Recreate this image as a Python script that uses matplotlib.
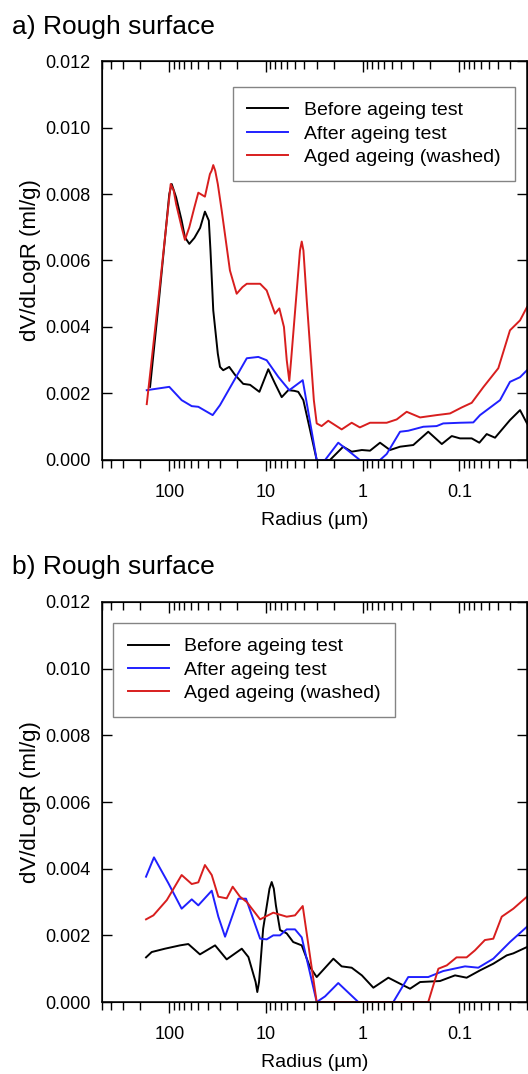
import matplotlib
matplotlib.use('Agg')
import matplotlib.pyplot as plt
import numpy as np
from matplotlib.ticker import FuncFormatter, NullFormatter, LogLocator

plt.rcParams['font.family'] = ['Liberation Sans', 'DejaVu Sans']

labels = ['Before ageing test', 'After ageing test', 'Aged ageing (washed)']
colors = ['#000000', '#2020ff', '#d81e1e']
yticks = [0.000, 0.002, 0.004, 0.006, 0.008, 0.010, 0.012]

# panel a) -- radius (um) / dV/dlogR (ml/g)
a_before_r = [158, 130, 100, 94.4, 85, 74.5, 68.9, 62.1, 55, 48, 42.8, 39, 37.5, 35.1, 31.5,
              29.9, 27.7, 24.0, 20.9, 17.2, 14.6, 11.7, 9.47, 8.07, 6.88, 5.88, 5.1, 4.64, 4.11, 3.5,
              2.99, 2.18, 1.79, 1.59, 1.30, 1.02, 0.840, 0.662, 0.522, 0.411, 0.300, 0.210, 0.152,
              0.120, 0.0986, 0.0746, 0.0622, 0.0522, 0.0428, 0.0300, 0.0236, 0.0200]
a_before_v = [0.0022, 0.0046, 0.0080, 0.0083, 0.0079, 0.0072, 0.0067, 0.0065, 0.00668, 0.00698,
              0.00747, 0.0072, 0.0063, 0.0045, 0.0032, 0.0028, 0.0027, 0.0028, 0.00256, 0.00229,
              0.00226, 0.00205, 0.00273, 0.0023, 0.00189, 0.0021, 0.00208, 0.00205, 0.0018, 0.0009,
              0.0, 0.0, 0.00025, 0.0004, 0.00025, 0.0003, 0.00028, 0.00052, 0.0003, 0.0004,
              0.00045, 0.00085, 0.00048, 0.00072, 0.00065, 0.00065, 0.00052, 0.00078, 0.00067,
              0.0012, 0.0015, 0.0011]
a_after_r = [171, 100, 74.5, 58.6, 50.1, 35.6, 29.9, 15.8, 12.0, 9.84, 7.46, 5.74, 4.17, 2.99,
             2.45, 1.79, 1.07, 0.662, 0.565, 0.411, 0.338, 0.236, 0.172, 0.147, 0.0986, 0.0718,
             0.0612, 0.0380, 0.0300, 0.0236, 0.0200]
a_after_v = [0.0021, 0.0022, 0.0018, 0.00162, 0.0016, 0.00135, 0.00165, 0.00306, 0.0031, 0.0030,
             0.0025, 0.0021, 0.0024, 0.0, 0.0, 0.00052, 0.0, 0.0, 0.00018, 0.00085, 0.00088,
             0.0010, 0.00102, 0.0011, 0.00112, 0.00113, 0.00135, 0.0018, 0.00235, 0.00249, 0.0027]
a_washed_r = [171, 130, 96.7, 90, 85, 74.5, 68.9, 62.1, 55, 50.1, 42.8, 38, 36.5, 35.1, 33.5,
              31.5, 28.7, 23.6, 20.1, 17.5, 15.8, 11.5, 9.84, 8.07, 7.28, 6.52, 6.1, 5.74, 5.5,
              4.9, 4.45, 4.27, 4.1, 3.79, 3.2, 2.99, 2.66, 2.27, 1.65, 1.30, 1.07, 0.840, 0.565,
              0.445, 0.351, 0.255, 0.172, 0.125, 0.0947, 0.0746, 0.0566, 0.0396, 0.0300, 0.0236,
              0.0200]
a_washed_v = [0.00168, 0.0048, 0.0083, 0.0081, 0.0077, 0.0070, 0.00662, 0.0070, 0.0076, 0.00804,
              0.00792, 0.0086, 0.0087, 0.00887, 0.0087, 0.0083, 0.0075, 0.0057, 0.0050, 0.0052,
              0.0053, 0.0053, 0.0051, 0.0044, 0.00456, 0.0040, 0.0030, 0.00238, 0.0030, 0.0048,
              0.0063, 0.00657, 0.0063, 0.0048, 0.0018, 0.0011, 0.00102, 0.00118, 0.00092, 0.00112,
              0.00098, 0.00112, 0.00112, 0.00122, 0.00145, 0.00128, 0.00135, 0.0014, 0.00158,
              0.00172, 0.00219, 0.00276, 0.0039, 0.0042, 0.0046]

# panel b)
b_before_r = [174, 152, 111, 77.4, 63.6, 48.2, 33.6, 25.5, 17.8, 15.2, 12.8, 12.3, 11.8, 10.7,
              9.2, 8.73, 8.3, 7.9, 7.16, 6.11, 5.23, 4.27, 3.51, 2.99, 2.01, 1.65, 1.30, 1.02,
              0.776, 0.543, 0.411, 0.324, 0.255, 0.159, 0.111, 0.0842, 0.0612, 0.0446, 0.0324,
              0.0277, 0.0200]
b_before_v = [0.00134, 0.0015, 0.0016, 0.0017, 0.00174, 0.00143, 0.0017, 0.00128, 0.0016,
              0.00135, 0.0006, 0.0003, 0.0006, 0.0022, 0.0034, 0.0036, 0.0034, 0.0029, 0.00216,
              0.00206, 0.0018, 0.0017, 0.00105, 0.00075, 0.0013, 0.00107, 0.00103, 0.0008,
              0.00043, 0.00073, 0.00055, 0.0004, 0.0006, 0.00063, 0.0008, 0.00073, 0.00095,
              0.00115, 0.0014, 0.00146, 0.00165]
b_after_r = [174, 144, 102, 74.5, 58.6, 50.1, 36.4, 31.1, 26.5, 19.3, 16.1, 11.5, 9.84, 8.41,
             7.16, 6.11, 5.01, 4.27, 2.99, 2.45, 1.79, 1.11, 0.483, 0.338, 0.210, 0.147, 0.0875,
             0.0638, 0.0446, 0.0300, 0.0200]
b_after_v = [0.00376, 0.00434, 0.00356, 0.0028, 0.00308, 0.0029, 0.00334, 0.00256, 0.00196,
             0.0031, 0.0031, 0.0019, 0.00188, 0.0020, 0.0020, 0.00218, 0.00218, 0.00194, 0.0,
             0.00017, 0.00057, 0.0, 0.0, 0.00075, 0.00075, 0.00093, 0.00107, 0.00103, 0.0013,
             0.0018, 0.00226]
b_washed_r = [174, 146, 106, 74.5, 58.6, 50.1, 42.8, 36.4, 31.1, 25.5, 22.1, 18.6, 15.8, 11.5,
              8.41, 6.11, 5.01, 4.17, 2.99, 0.210, 0.165, 0.135, 0.107, 0.0842, 0.0691, 0.0545,
              0.0446, 0.0365, 0.0277, 0.0200]
b_washed_v = [0.00248, 0.0026, 0.00306, 0.00381, 0.00354, 0.00359, 0.00411, 0.00381, 0.00316,
              0.00311, 0.00346, 0.00316, 0.0030, 0.00248, 0.00268, 0.00256, 0.0026, 0.00288, 0.0,
              0.0, 0.0010, 0.0011, 0.00134, 0.00134, 0.00155, 0.00186, 0.0019, 0.00256, 0.0028,
              0.00316]


def draw_panel(ax, series, legend_anchor, legend_loc):
    for (r, v), lab, c in zip(series, labels, colors):
        ax.plot(r, v, color=c, lw=1.4, label=lab)
    ax.set_xscale('log')
    ax.set_xlim(500, 0.02)
    ax.set_ylim(0, 0.012)
    ax.set_yticks(yticks)
    ax.yaxis.set_major_formatter(FuncFormatter(lambda v, p: f'{v:.3f}'))
    ax.xaxis.set_major_locator(LogLocator(base=10))
    ax.xaxis.set_minor_locator(LogLocator(base=10, subs=np.arange(2, 10)))
    ax.xaxis.set_major_formatter(FuncFormatter(lambda v, p: f'{v:g}'))
    ax.xaxis.set_minor_formatter(NullFormatter())
    ax.tick_params(axis='x', which='major', direction='out', length=8, width=1, labelsize=13, pad=9)
    ax.tick_params(axis='x', which='minor', direction='out', length=5.5, width=1)
    ax.tick_params(axis='y', direction='in', left=True, right=True, length=7, width=1,
                   labelsize=13, pad=8)
    for s in ax.spines.values():
        s.set_linewidth(1.1)
    ax.set_xlabel('Radius (µm)', fontsize=14, labelpad=8)
    ax.set_ylabel('dV/dLogR (ml/g)', fontsize=16, labelpad=3)

    # mirrored inward ticks along the top
    top = ax.twiny()
    top.set_xscale('log')
    top.set_xlim(ax.get_xlim())
    top.xaxis.set_major_locator(LogLocator(base=10))
    top.xaxis.set_minor_locator(LogLocator(base=10, subs=np.arange(2, 10)))
    top.tick_params(axis='x', which='major', direction='in', length=8, width=1, labeltop=False)
    top.tick_params(axis='x', which='minor', direction='in', length=5.5, width=1, labeltop=False)
    top.xaxis.set_minor_formatter(NullFormatter())

    leg = ax.legend(loc=legend_loc, bbox_to_anchor=legend_anchor, borderaxespad=0,
                    fontsize=14, fancybox=False, handlelength=2.1, handletextpad=0.8,
                    labelspacing=0.3, borderpad=0.75)
    leg.get_frame().set_edgecolor('#666666')
    leg.get_frame().set_linewidth(1.0)


fig = plt.figure(figsize=(5.28, 10.74), dpi=100)
ax1 = fig.add_axes([0.1926, 0.5717, 0.8055, 0.3715])
ax2 = fig.add_axes([0.1926, 0.0670, 0.8055, 0.3725])

draw_panel(ax1, [(a_before_r, a_before_v), (a_after_r, a_after_v), (a_washed_r, a_washed_v)],
           (0.972, 0.935), 'upper right')
draw_panel(ax2, [(b_before_r, b_before_v), (b_after_r, b_after_v), (b_washed_r, b_washed_v)],
           (0.027, 0.947), 'upper left')

fig.text(0.023, 0.968, 'a) Rough surface', fontsize=19, va='baseline')
fig.text(0.023, 0.4653, 'b) Rough surface', fontsize=19, va='baseline')

fig.savefig('out.png', dpi=100)
